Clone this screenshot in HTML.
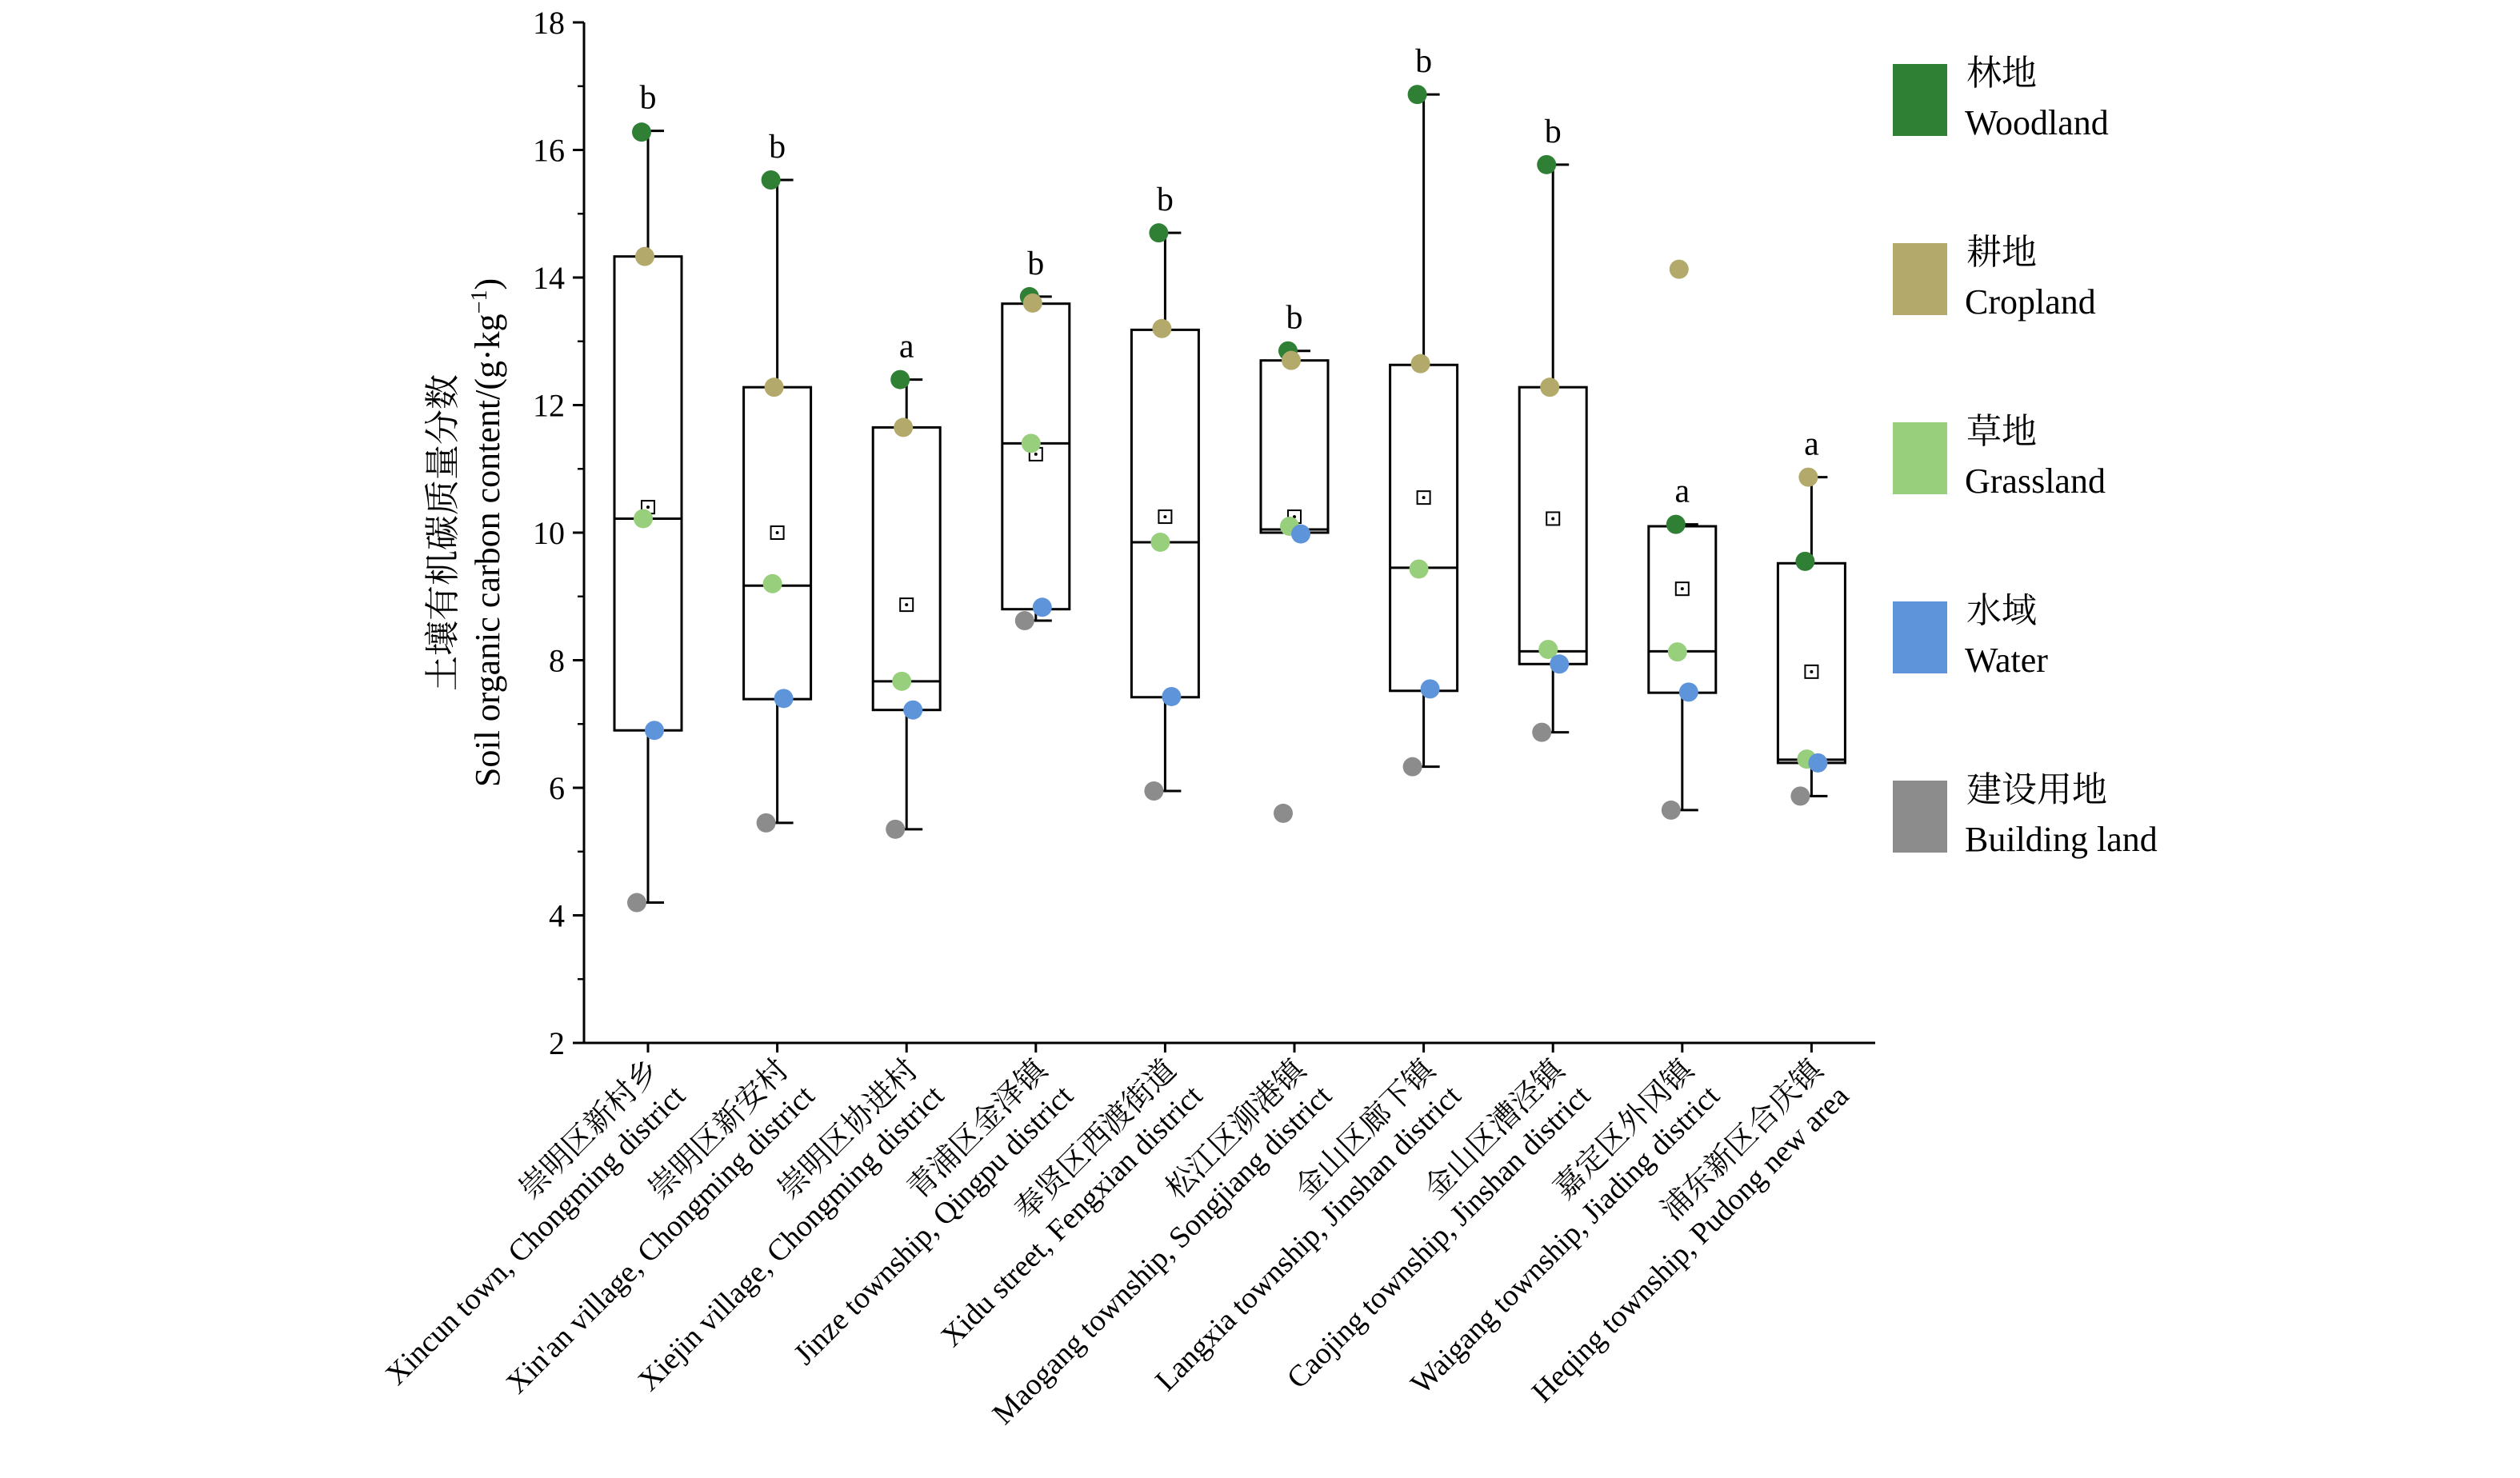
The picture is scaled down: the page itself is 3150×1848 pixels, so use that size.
<!DOCTYPE html>
<html><head><meta charset="utf-8"><style>
html,body{margin:0;padding:0;background:#fff;}
svg{display:block;font-family:"Liberation Serif","Noto Serif CJK SC",serif;}
</style></head><body>
<svg id="chart" width="3150" height="1848" viewBox="0 0 1575 924" xmlns="http://www.w3.org/2000/svg"></svg>
<script>
const categoriesCn=["崇明区新村乡","崇明区新安村","崇明区协进村","青浦区金泽镇","奉贤区西渡街道","松江区泖港镇","金山区廊下镇","金山区漕泾镇","嘉定区外冈镇","浦东新区合庆镇"];
const categoriesEn=["Xincun town, Chongming district","Xin'an village, Chongming district","Xiejin village, Chongming district","Jinze township, Qingpu district","Xidu street, Fengxian district","Maogang township, Songjiang district","Langxia township, Jinshan district","Caojing township, Jinshan district","Waigang township, Jiading district","Heqing township, Pudong new area"];
const woodland=[16.28,15.53,12.4,13.7,14.7,12.85,16.87,15.77,10.13,9.55];
const cropland=[14.33,12.28,11.65,13.6,13.2,12.7,12.65,12.28,14.13,10.87];
const grassland=[10.22,9.2,7.67,11.4,9.85,10.1,9.43,8.17,8.13,6.45];
const water=[6.9,7.4,7.22,8.83,7.43,9.98,7.55,7.94,7.5,6.39];
const building=[4.2,5.45,5.35,8.62,5.95,5.6,6.33,6.87,5.65,5.87];
const q1=[6.9,7.39,7.22,8.8,7.42,10.0,7.52,7.94,7.49,6.39];
const q3=[14.33,12.28,11.65,13.59,13.18,12.7,12.63,12.28,10.1,9.52];
const medians=[10.22,9.17,7.67,11.4,9.85,10.05,9.45,8.14,8.14,6.44];
const whiskerLow=[4.2,5.45,5.35,8.62,5.95,10.0,6.33,6.87,5.65,5.87];
const whiskerHigh=[16.3,15.53,12.4,13.7,14.7,12.85,16.87,15.77,10.13,10.87];
const means=[10.4,10.0,8.87,11.23,10.25,10.25,10.55,10.22,9.12,7.82];
const letters=["b","b","a","b","b","b","b","b","a","a"];
const yTicks=[2,4,6,8,10,12,14,16,18];

const svg=document.getElementById('chart');
const NS="http://www.w3.org/2000/svg";
const X0=365,X1=1172,Y0=652,Y1=14,ymin=2,ymax=18;
const y=v=>Y0-(v-ymin)/(ymax-ymin)*(Y0-Y1);
const x=i=>405+i*80.8;
function el(t,a,p){const e=document.createElementNS(NS,t);for(const k in a)e.setAttribute(k,a[k]);(p||svg).appendChild(e);return e;}

// axes
let ax=el('line',{x1:X0,y1:Y1,x2:X0,y2:Y0,stroke:'#000','stroke-width':1.5});


let bx=el('line',{x1:X0,y1:Y0,x2:X1,y2:Y0,stroke:'#000','stroke-width':1.5});


yTicks.forEach(v=>{
  el('line',{x1:X0-7,y1:y(v),x2:X0,y2:y(v),stroke:'#000','stroke-width':1.5});
  if(v<18) el('line',{x1:X0-4,y1:y(v+1),x2:X0,y2:y(v+1),stroke:'#000','stroke-width':1.2});
  const t=el('text',{x:X0-12,y:y(v)+7,'text-anchor':'end','font-size':20});
  t.textContent=v;
  
  
});
// y title
let yt=el('text',{transform:'translate(284,333) rotate(-90)','text-anchor':'middle','font-size':22});
yt.textContent='土壤有机碳质量分数';


let yt2=el('text',{transform:'translate(312,333) rotate(-90)','text-anchor':'middle','font-size':22});
yt2.innerHTML='Soil organic carbon content/(g·kg<tspan font-size="14" dy="-8">−1</tspan><tspan dy="8">)</tspan>';



const series=[
 {d:woodland,c:'#2f7f35',off:-4,cn:'林地',en:'Woodland'},
 {d:cropland,c:'#b2a96b',off:-2,cn:'耕地',en:'Cropland'},
 {d:grassland,c:'#98cf7c',off:-3,cn:'草地',en:'Grassland'},
 {d:water,c:'#5e94da',off:4,cn:'水域',en:'Water'},
 {d:building,c:'#8c8c8c',off:-7,cn:'建设用地',en:'Building land'}];

categoriesCn.forEach((cn,i)=>{
  const cx=x(i);
  el('line',{x1:cx,y1:Y0,x2:cx,y2:Y0+6,stroke:'#000','stroke-width':1.5});
  const g=el('g',{});
  
  
  el('line',{x1:cx,y1:y(whiskerLow[i]),x2:cx,y2:y(whiskerHigh[i]),stroke:'#000','stroke-width':1.5},g);
  el('line',{x1:cx-2,y1:y(whiskerLow[i]),x2:cx+10,y2:y(whiskerLow[i]),stroke:'#000','stroke-width':1.5},g);
  el('line',{x1:cx-2,y1:y(whiskerHigh[i]),x2:cx+10,y2:y(whiskerHigh[i]),stroke:'#000','stroke-width':1.5},g);
  el('rect',{x:cx-21,y:y(q3[i]),width:42,height:y(q1[i])-y(q3[i]),fill:'#fff',stroke:'#000','stroke-width':1.5},g);
  el('line',{x1:cx-21,y1:y(medians[i]),x2:cx+21,y2:y(medians[i]),stroke:'#000','stroke-width':1.5},g);
  el('rect',{x:cx-4,y:y(means[i])-4,width:8,height:8,fill:'none',stroke:'#000','stroke-width':1},g);
  el('circle',{cx:cx,cy:y(means[i]),r:1,fill:'#000'},g);
  series.forEach(s=>{
    const c=el('circle',{cx:cx+s.off,cy:y(s.d[i]),r:6,fill:s.c},g);
    
    
  });
  const lt=el('text',{x:cx,y:y(whiskerHigh[i])-14,'text-anchor':'middle','font-size':21});
  lt.textContent=letters[i];
  
  
  const lg=el('g',{transform:`translate(${cx+8},670) rotate(-45)`,'font-size':19});
  
  
  const t1=el('text',{x:0,y:0,'text-anchor':'end'},lg); t1.textContent=cn;
  const t2=el('text',{x:0,y:23,'text-anchor':'end'},lg); t2.textContent=categoriesEn[i];
});

// legend
series.forEach((s,k)=>{
  const g=el('g',{});
  
  
  const top=40+k*112;
  el('rect',{x:1183,y:top,width:34,height:45,fill:s.c},g);
  const a=el('text',{x:1229,y:top+13,'font-size':22},g); a.textContent=s.cn;
  const b=el('text',{x:1228,y:top+44,'font-size':22},g); b.textContent=s.en;
});
</script>
</body></html>
